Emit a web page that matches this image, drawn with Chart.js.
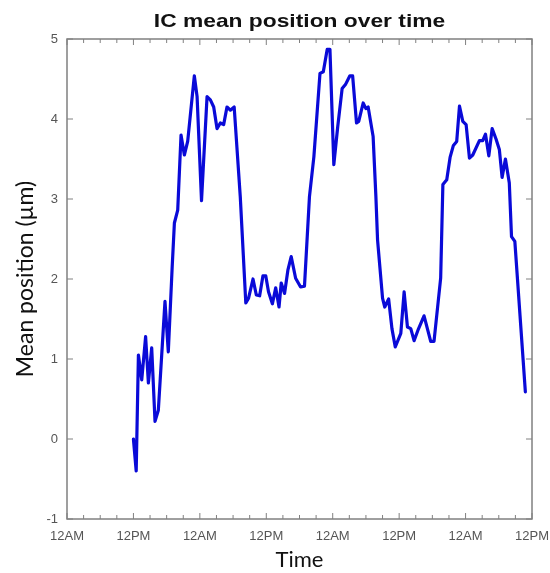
<!DOCTYPE html>
<html>
<head>
<meta charset="utf-8">
<script src="https://cdn.jsdelivr.net/npm/chart.js@4"></script>
<style>
  html, body { margin: 0; padding: 0; background: #fff; }
  #wrap { width: 550px; height: 573px; }
</style>
</head>
<body>
<div id="wrap"><canvas id="icChart"></canvas></div>
<script>
// Chart text
const chartTitle = 'IC mean position over time';
const yTitle = 'Mean position (\u00b5m)';
const xTitle = 'Time';

// Tick labels along the time axis (every 12 hours)
const timeLabels = ['12AM', '12PM', '12AM', '12PM', '12AM', '12PM', '12AM', '12PM'];

// Hours since the first 12AM
const hours = [
  12.0, 12.5, 12.9, 13.5, 14.2, 14.7, 15.3, 15.9, 16.5, 17.7,
  18.3, 19.0, 19.4, 20.0, 20.6, 21.2, 21.8, 23.0, 23.5, 24.3,
  25.3, 25.9, 26.5, 27.1, 27.7, 28.3, 28.9, 29.5, 30.2, 31.3,
  32.3, 32.8, 33.6, 34.2, 34.8, 35.4, 35.9, 36.4, 37.1, 37.7,
  38.3, 38.7, 39.3, 39.9, 40.5, 41.3, 42.2, 42.9, 43.8, 44.6,
  45.7, 46.3, 47.0, 47.5, 48.2, 48.9, 49.7, 50.3, 51.1, 51.6,
  52.3, 52.7, 53.5, 54.0, 54.4, 55.3, 55.8, 56.1, 57.0, 57.4,
  58.1, 58.7, 59.3, 60.3, 60.9, 61.5, 62.1, 62.7, 63.4, 64.5,
  65.7, 66.3, 67.5, 67.9, 68.6, 69.2, 69.8, 70.4, 70.9, 71.5,
  72.1, 72.7, 73.3, 74.5, 75.1, 75.6, 76.2, 76.8, 77.5, 78.1,
  78.6, 79.2, 79.9, 80.3, 80.9, 82.8
];

// Mean position (um)
const meanPosition = [
  0.00, -0.40, 1.05, 0.74, 1.28, 0.70, 1.14, 0.22, 0.36, 1.72,
  1.09, 2.15, 2.70, 2.86, 3.80, 3.55, 3.72, 4.54, 4.28, 2.98,
  4.28, 4.24, 4.15, 3.88, 3.95, 3.93, 4.15, 4.11, 4.15, 3.03,
  1.70, 1.76, 2.00, 1.80, 1.79, 2.04, 2.04, 1.84, 1.69, 1.89,
  1.65, 1.95, 1.82, 2.11, 2.28, 2.01, 1.90, 1.91, 3.03, 3.53,
  4.57, 4.59, 4.87, 4.87, 3.43, 3.90, 4.38, 4.43, 4.54, 4.54,
  3.95, 3.97, 4.20, 4.13, 4.15, 3.78, 3.03, 2.49, 1.76, 1.65,
  1.75, 1.38, 1.15, 1.32, 1.84, 1.40, 1.38, 1.23, 1.36, 1.54,
  1.22, 1.22, 2.01, 3.18, 3.24, 3.52, 3.67, 3.72, 4.16, 3.97,
  3.93, 3.51, 3.55, 3.73, 3.73, 3.81, 3.54, 3.88, 3.75, 3.62,
  3.27, 3.50, 3.20, 2.53, 2.47, 0.59
];

const points = hours.map(function (h, i) {
  return { x: h, y: meanPosition[i] };
});

// Box around the plot with inward tick marks (MATLAB look) and the title
const framePlugin = {
  id: 'frame',
  afterDraw: function (chart) {
    const ctx = chart.ctx;
    const a = chart.chartArea;
    const xs = chart.scales.x;
    const ys = chart.scales.y;
    ctx.save();
    ctx.strokeStyle = '#808080';
    ctx.lineWidth = 1.5;
    ctx.strokeRect(a.left, a.top, a.right - a.left, a.bottom - a.top);

    ctx.lineWidth = 1;
    ctx.beginPath();
    for (let h = xs.min; h <= xs.max; h += 3) {
      const px = xs.getPixelForValue(h);
      const len = (h % 12 === 0) ? 6 : 4;
      ctx.moveTo(px, a.bottom); ctx.lineTo(px, a.bottom - len);
      ctx.moveTo(px, a.top); ctx.lineTo(px, a.top + len);
    }
    for (let v = ys.min; v <= ys.max; v += 1) {
      const py = ys.getPixelForValue(v);
      ctx.moveTo(a.left, py); ctx.lineTo(a.left + 6, py);
      ctx.moveTo(a.right, py); ctx.lineTo(a.right - 6, py);
    }
    ctx.stroke();

    // title, centred over the plot area
    ctx.fillStyle = '#111';
    ctx.font = 'bold 19px "Liberation Sans", Arial, sans-serif';
    ctx.textAlign = 'center';
    ctx.textBaseline = 'alphabetic';
    ctx.translate((a.left + a.right) / 2, 27);
    ctx.scale(1.2, 1);
    ctx.fillText(chartTitle, 0, 0);
    ctx.restore();
  }
};

const ctx = document.getElementById('icChart').getContext('2d');
const icChart = new Chart(ctx, {
  type: 'line',
  data: {
    datasets: [{
      label: 'IC mean position',
      data: points,
      borderColor: '#0a0ad8',
      borderWidth: 3.2,
      borderJoinStyle: 'round',
      borderCapStyle: 'round',
      pointRadius: 0,
      tension: 0,
      fill: false
    }]
  },
  options: {
    responsive: true,
    maintainAspectRatio: false,
    animation: false,
    layout: {
      padding: { top: 39, right: 18, left: 0, bottom: 0 }
    },
    plugins: {
      legend: { display: false },
      tooltip: { enabled: false }
    },
    scales: {
      x: {
        type: 'linear',
        min: 0,
        max: 84,
        grid: { display: false, drawTicks: false },
        border: { display: false },
        ticks: {
          stepSize: 12,
          autoSkip: false,
          maxRotation: 0,
          padding: 10,
          color: '#555',
          font: { family: '"Liberation Sans", Arial, sans-serif', size: 13 },
          callback: function (v) { return timeLabels[Math.round(v / 12)]; }
        },
        title: {
          display: true,
          text: xTitle,
          color: '#111',
          font: { family: 'Lato, sans-serif', size: 22 },
          padding: { top: 4, bottom: 0 }
        },
        afterFit: function (scale) {
          scale.height = 54;
          scale.paddingLeft = 0;
          scale.paddingRight = 0;
        }
      },
      y: {
        min: -1,
        max: 5,
        grid: { display: false, drawTicks: false },
        border: { display: false },
        ticks: {
          stepSize: 1,
          padding: 9,
          color: '#555',
          font: { family: '"Liberation Sans", Arial, sans-serif', size: 13 }
        },
        title: {
          display: true,
          text: yTitle,
          color: '#111',
          font: { family: 'Lato, sans-serif', size: 23 },
          padding: { top: 12, bottom: 0 }
        },
        afterFit: function (scale) { scale.width = 67; }
      }
    }
  },
  plugins: [framePlugin]
});
</script>
</body>
</html>
